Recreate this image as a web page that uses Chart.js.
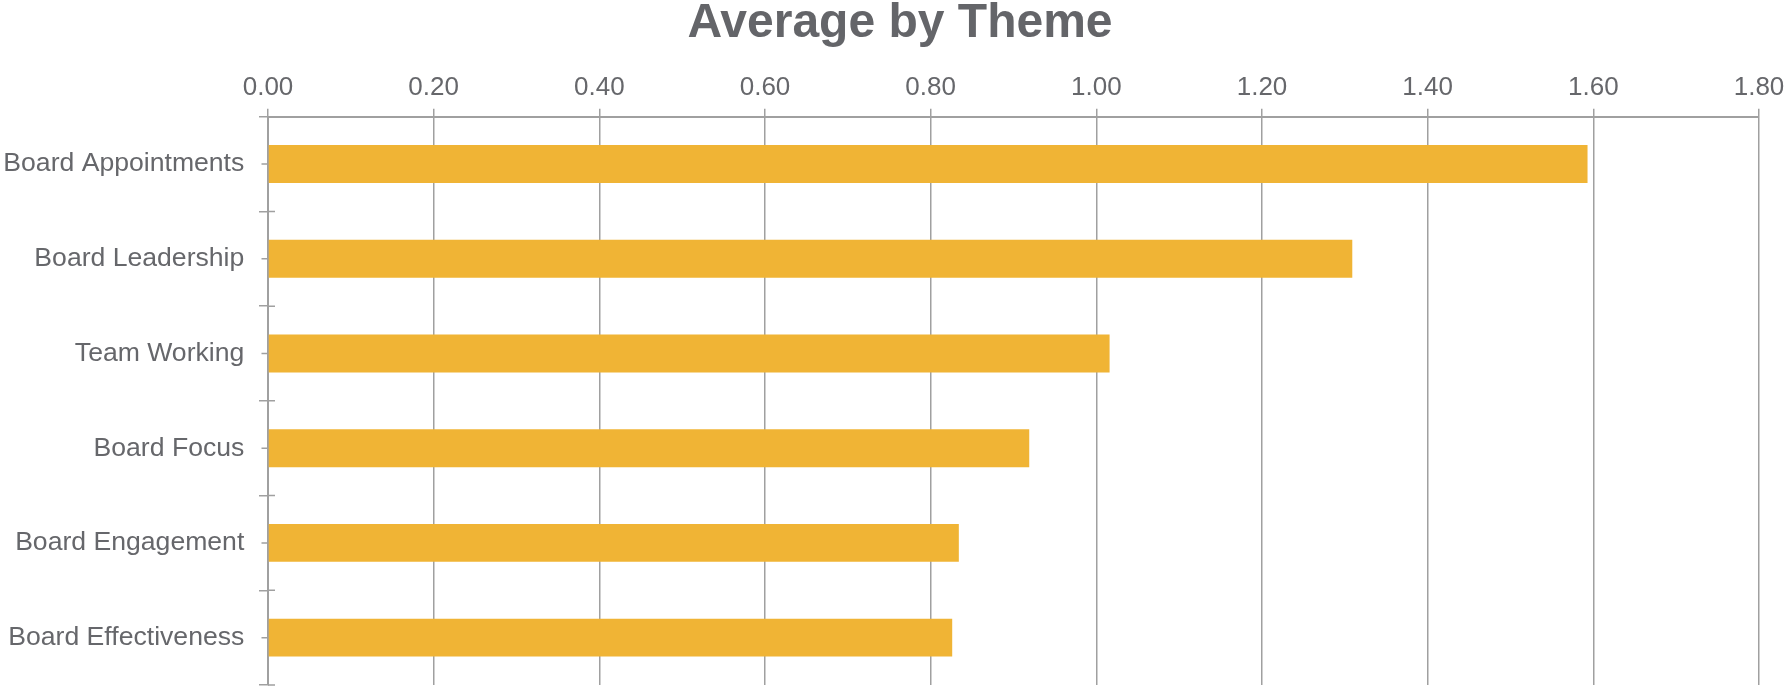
<!DOCTYPE html>
<html>
<head>
<meta charset="utf-8">
<script src="https://cdn.jsdelivr.net/npm/chart.js@4"></script>
<style>
html,body{margin:0;padding:0;background:#fff;}
#wrap{width:1787px;height:689px;position:relative;}
</style>
</head>
<body>
<div id="wrap"><canvas id="c"></canvas></div>
<script>
const categories = ["Board Appointments","Board Leadership","Team Working","Board Focus","Board Engagement","Board Effectiveness"];
const averages = [1.593, 1.309, 1.016, 0.919, 0.834, 0.826];
const tickValues = [0, 0.2, 0.4, 0.6, 0.8, 1.0, 1.2, 1.4, 1.6, 1.8];
const chartTitle = "Average by Theme";

const FONT = "'Liberation Sans', Arial, Helvetica, sans-serif";
const TEXT = "#66676b";
const GRID = "#a0a0a0";

const catTicks = {
  id: 'catTicks',
  afterDraw(chart) {
    const ys = chart.scales.y, ctx = chart.ctx, left = chart.chartArea.left;
    ctx.save();
    ctx.strokeStyle = GRID;
    ctx.lineWidth = 1.5;
    ctx.beginPath();
    for (let i = 0; i < categories.length; i++) {
      const y = ys.getPixelForValue(i);
      ctx.moveTo(left - 6.5, y); ctx.lineTo(left, y);
    }
    for (let i = 0; i <= categories.length; i++) {
      const y = ys.getPixelForValue(i - 0.5);
      ctx.moveTo(left, y); ctx.lineTo(left + 7, y);
    }
    ctx.stroke();
    // chart title, centred over the whole figure like the reference
    ctx.fillStyle = '#646569';
    ctx.font = "bold 48px " + FONT;
    ctx.textAlign = 'center';
    ctx.textBaseline = 'middle';
    ctx.fillText(chartTitle, 900, 24);
    ctx.restore();
  }
};

new Chart(document.getElementById('c'), {
  type: 'bar',
  data: {
    labels: categories,
    datasets: [{
      data: averages,
      backgroundColor: '#f0b435',
      borderWidth: 0,
      categoryPercentage: 1.0,
      barPercentage: 0.4
    }]
  },
  options: {
    indexAxis: 'y',
    responsive: true,
    maintainAspectRatio: false,
    animation: false,
    layout: { padding: { left: 0, right: 28, top: 71.7, bottom: 4 } },
    plugins: {
      legend: { display: false },
      tooltip: { enabled: false },
      title: { display: false }
    },
    scales: {
      x: {
        position: 'top',
        min: 0, max: 1.8,
        afterBuildTicks(scale) { scale.ticks = tickValues.map(v => ({ value: v })); },
        afterFit(scale) { scale.height = 45; scale.paddingLeft = 0; scale.paddingRight = 0; },
        ticks: {
          color: TEXT,
          font: { family: FONT, size: 26 },
          padding: 5.5,
          callback: v => Number(v).toFixed(2)
        },
        grid: { color: GRID, lineWidth: 1.5, tickLength: 8, drawTicks: true },
        border: { color: GRID, width: 2 }
      },
      y: {
        afterFit(scale) { scale.width = 268; scale.paddingTop = 0; scale.paddingBottom = 0; },
        ticks: {
          color: TEXT,
          font: { family: FONT, size: 26.6 },
          padding: 14.7
        },
        grid: { display: true, drawOnChartArea: false, color: GRID, lineWidth: 1.5, tickLength: 9, offset: true },
        border: { color: GRID, width: 2 }
      }
    }
  },
  plugins: [catTicks]
});
</script>
</body>
</html>
